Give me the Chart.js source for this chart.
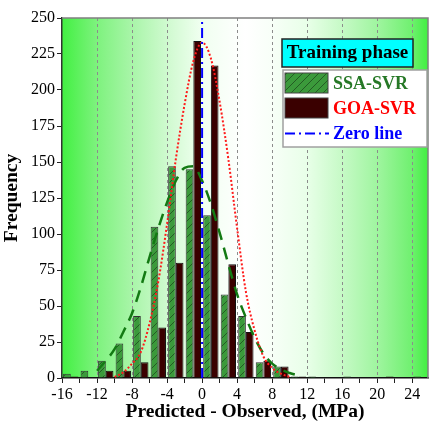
<!DOCTYPE html>
<html>
<head>
<meta charset="utf-8">
<script src="https://cdn.jsdelivr.net/npm/chart.js@4.4.0/dist/chart.umd.min.js"></script>
<style>
html,body{margin:0;padding:0;background:#fff;}
#wrap{width:430px;height:429px;}
</style>
</head>
<body>
<div id="wrap"><canvas id="hist-chart" width="430" height="429"></canvas></div>
<script>
// histogram bins (centre of each 2 MPa bin)
var binCenters = [-15,-13,-11,-9,-7,-5,-3,-1,1,3,5,7,9,11,13,15,17,19,21,23,25];
var ssaCounts  = [3,5,12,24,43,105,147,145,113,58,43,11,8,1,1,0,1,0,0,0,1];
var goaCounts  = [1,0,5,5,11,35,80,234,217,79,32,12,8,1,0,0,0,0,1,0,0];

// fitted curves
var ssaCurveX = [-12,-11,-10,-9,-8,-7,-6,-5,-4,-3,-2,-1,0,1,2,3,4,5,6,7,8,9,10,11];
var ssaCurveY = [5,12,20,32,45,63,84,104,122,137,146,147,137,121,101,79,58,42,28,17,10,6,3.5,1.7];
var goaCurveX = [-10,-9,-8,-7,-6,-5,-4,-3,-2,-1,0,1,2,3,4,5,6,7,8,9,10];
var goaCurveY = [0.7,4,10,18,38,67,107,152,190,220,233,222,192,152,104,60,33,15,7,3,0.7];

var seriesNames = ["SSA-SVR","GOA-SVR","Zero line"];
var legendTitle = "Training phase";

var serif = "'Liberation Serif','Times New Roman',serif";

function toPoints(xs, ys){
  var out = [];
  for(var i=0;i<xs.length;i++){ out.push({x: xs[i], y: ys[i]}); }
  return out;
}

function makeHatch(){
  var c = document.createElement('canvas');
  c.width = 8; c.height = 8;
  var g = c.getContext('2d');
  g.fillStyle = '#3b9a3b';
  g.fillRect(0,0,8,8);
  g.strokeStyle = '#1d4d1d';
  g.lineWidth = 0.8;
  g.beginPath();
  g.moveTo(0,8); g.lineTo(8,0);
  g.moveTo(-1,1); g.lineTo(1,-1);
  g.moveTo(7,9); g.lineTo(9,7);
  g.stroke();
  return document.getElementById('hist-chart').getContext('2d').createPattern(c,'repeat');
}
var hatch = makeHatch();

var bgPlugin = {
  id: 'plotBg',
  beforeDraw: function(chart){
    var a = chart.chartArea, ctx = chart.ctx;
    var gr = ctx.createLinearGradient(a.left,0,a.right,0);
    gr.addColorStop(0,'#42f042');
    gr.addColorStop(0.096,'#7ef27e');
    gr.addColorStop(0.19,'#a8f5a8');
    gr.addColorStop(0.29,'#d0fad0');
    gr.addColorStop(0.38,'#f0fff0');
    gr.addColorStop(0.5,'#ffffff');
    gr.addColorStop(0.57,'#f8fff8');
    gr.addColorStop(0.67,'#e8ffe8');
    gr.addColorStop(0.76,'#c8fac8');
    gr.addColorStop(0.86,'#a0f5a0');
    gr.addColorStop(0.955,'#70f070');
    gr.addColorStop(1,'#40f040');
    ctx.save();
    ctx.fillStyle = gr;
    ctx.fillRect(a.left,a.top,a.right-a.left,a.bottom-a.top);
    ctx.restore();
  },
  afterDatasetsDraw: function(chart){
    var a = chart.chartArea, ctx = chart.ctx;
    ctx.save();
    ctx.strokeStyle = '#808080';
    ctx.lineWidth = 1.5;
    ctx.beginPath();
    ctx.moveTo(a.left,a.top); ctx.lineTo(a.right,a.top); ctx.lineTo(a.right,a.bottom);
    ctx.stroke();
    ctx.restore();
  },
  afterDraw: function(chart){
    var ctx = chart.ctx;
    ctx.save();
    // title box
    ctx.fillStyle = '#00ffff';
    ctx.fillRect(282,39,131,28);
    ctx.strokeStyle = '#222';
    ctx.lineWidth = 1.5;
    ctx.strokeRect(282,39,131,28);
    ctx.fillStyle = '#000';
    ctx.font = 'bold 19px ' + serif;
    ctx.textAlign = 'center';
    ctx.textBaseline = 'middle';
    ctx.fillText(legendTitle,347.5,53.5);
    // entries box
    ctx.fillStyle = '#fff';
    ctx.fillRect(283,70,144,77);
    ctx.strokeStyle = '#a0a0a0';
    ctx.strokeRect(283,70,144,77);
    ctx.fillStyle = hatch;
    ctx.fillRect(285,73,43,20);
    ctx.strokeStyle = '#444';
    ctx.lineWidth = 1;
    ctx.strokeRect(285,73,43,20);
    ctx.fillStyle = '#3a0000';
    ctx.fillRect(285,98,43,20);
    ctx.strokeRect(285,98,43,20);
    ctx.strokeStyle = '#0000ff';
    ctx.lineWidth = 2;
    ctx.setLineDash([10,4,2,4]);
    ctx.beginPath(); ctx.moveTo(285,133.5); ctx.lineTo(329,133.5); ctx.stroke();
    ctx.setLineDash([]);
    ctx.font = 'bold 18px ' + serif;
    ctx.textAlign = 'left';
    ctx.fillStyle = '#267826';
    ctx.fillText(seriesNames[0],333,84);
    ctx.fillStyle = '#ff0000';
    ctx.fillText(seriesNames[1],333,109);
    ctx.fillStyle = '#0000ff';
    ctx.fillText(seriesNames[2],333,134);
    ctx.restore();
  }
};

new Chart(document.getElementById('hist-chart'), {
  type: 'bar',
  data: {
    datasets: [
      {
        label: seriesNames[2],
        type: 'line',
        data: [{x:0,y:0},{x:0,y:250}],
        borderColor: '#0000ff',
        borderWidth: 2,
        borderDash: [10,4,2,4],
        pointRadius: 0,
        order: 1
      },
      {
        label: seriesNames[1] + ' fit',
        type: 'line',
        data: toPoints(goaCurveX, goaCurveY),
        borderColor: '#ff1a1a',
        borderWidth: 2,
        borderDash: [2,2],
        pointRadius: 0,
        cubicInterpolationMode: 'monotone',
        order: 2
      },
      {
        label: seriesNames[0] + ' fit',
        type: 'line',
        data: toPoints(ssaCurveX, ssaCurveY),
        borderColor: '#137a13',
        borderWidth: 2.5,
        borderDash: [12,8],
        pointRadius: 0,
        cubicInterpolationMode: 'monotone',
        order: 2
      },
      {
        label: seriesNames[0],
        data: toPoints(binCenters, ssaCounts),
        backgroundColor: hatch,
        borderColor: '#333',
        borderWidth: 1,
        order: 3
      },
      {
        label: seriesNames[1],
        data: toPoints(binCenters, goaCounts),
        backgroundColor: '#3a0000',
        borderColor: '#111',
        borderWidth: 1,
        order: 3
      }
    ]
  },
  options: {
    responsive: false,
    animation: false,
    events: [],
    layout: { padding: { top: 18, right: 2, left: 0, bottom: 0 } },
    datasets: { bar: { categoryPercentage: 0.875, barPercentage: 1 } },
    plugins: { legend: { display: false }, tooltip: { enabled: false } },
    scales: {
      x: {
        type: 'linear',
        offset: false,
        min: -16,
        max: 25.8,
        afterFit: function(s){ s.height = 51; },
        ticks: {
          stepSize: 2,
          includeBounds: false,
          autoSkip: false,
          maxRotation: 0,
          padding: 2,
          color: '#000',
          font: { family: serif, size: 16 },
          callback: function(v){ return v % 4 === 0 ? v : ''; }
        },
        grid: {
          offset: false,
          drawTicks: true,
          tickLength: 5,
          tickColor: '#222',
          lineWidth: 1,
          color: function(c){
            var v = c.tick ? c.tick.value : null;
            if (v === null) return 'transparent';
            return (v % 4 === 0 && v !== -16 && v !== 0) ? '#8c8c8c' : 'transparent';
          }
        },
        border: { display: true, color: '#111', width: 1.5, dash: [3,3] },
        title: {
          display: true,
          text: 'Predicted - Observed, (MPa)',
          color: '#000',
          font: { family: serif, size: 19.5, weight: 'bold' },
          padding: { top: 0, bottom: 5 }
        }
      },
      y: {
        min: 0,
        max: 250,
        afterFit: function(s){ s.width = 62; },
        ticks: {
          stepSize: 12.5,
          padding: 2,
          color: '#000',
          font: { family: serif, size: 16 },
          callback: function(v){ return v % 25 === 0 ? v : ''; }
        },
        grid: { drawOnChartArea: false, tickLength: 5, tickColor: '#222' },
        border: { display: true, color: '#333', width: 1.5 },
        title: {
          display: true,
          text: 'Frequency',
          color: '#000',
          font: { family: serif, size: 19.5, weight: 'bold' },
          padding: { top: 0, bottom: 0 }
        }
      }
    }
  },
  plugins: [bgPlugin]
});
</script>
</body>
</html>
